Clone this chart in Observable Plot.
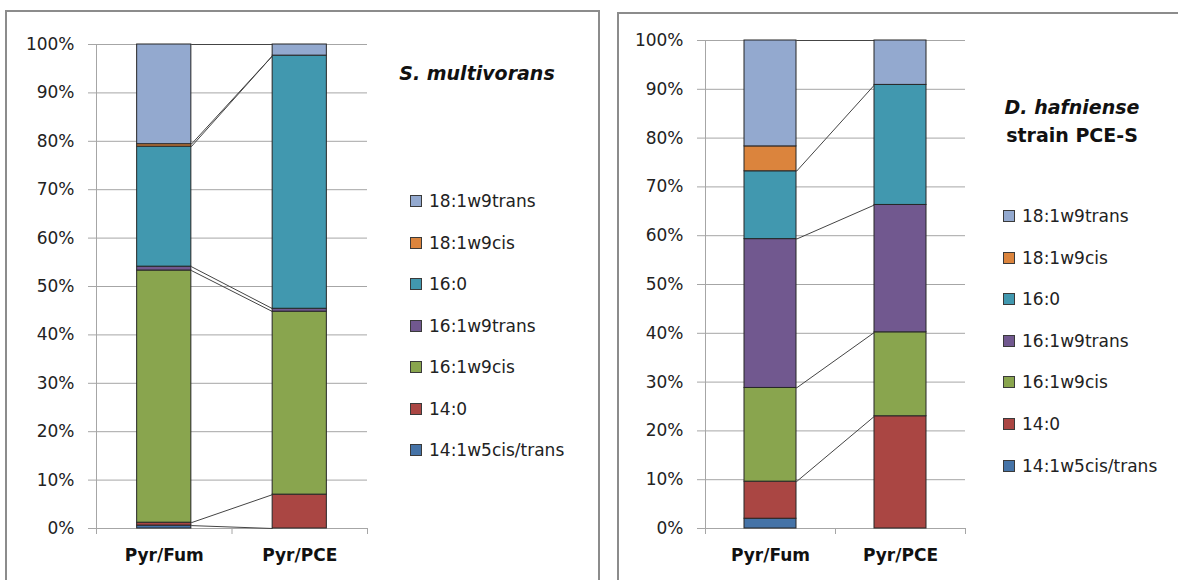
<!DOCTYPE html>
<html><head><meta charset="utf-8">
<script src="https://cdn.jsdelivr.net/npm/d3@7"></script>
<script src="https://cdn.jsdelivr.net/npm/@observablehq/plot@0.6"></script>
<style>
body{margin:0;background:#fff;font-family:"DejaVu Sans",sans-serif;}
#root{position:relative;width:1178px;height:580px;overflow:hidden;background:#fff;}
.panel{position:absolute;border:2px solid #8c8c8c;box-sizing:border-box;}
.chart{position:absolute;top:0;}
.leg{position:absolute;font-size:17px;color:#222;white-space:nowrap;line-height:20px;height:20px;}
.sw{position:absolute;width:10px;height:10px;border:1px solid #3a3a3a;top:4px;}
.title{position:absolute;font-weight:bold;font-size:19px;color:#111;text-align:center;white-space:nowrap;line-height:28px;}
.title i{font-style:italic;}
</style>
</head><body>
<div id="root">
  <div class="panel" style="left:5px;top:10px;width:595px;height:620px;"></div>
  <div class="panel" style="left:617px;top:12px;width:620px;height:620px;"></div>
</div>
<script>
// ---- data ----
const categories = ["Pyr/Fum", "Pyr/PCE"];
// stacking order bottom -> top
const fattyAcids = ["14:1w5cis/trans", "14:0", "16:1w9cis", "16:1w9trans", "16:0", "18:1w9cis", "18:1w9trans"];
const seriesColors = ["#4573A7", "#AA4643", "#89A54E", "#71588F", "#4198AF", "#DB843D", "#93A9CF"];
const multivoransFum = [0.6, 0.6, 52.1, 0.8, 24.8, 0.5, 20.6];
const multivoransPCE = [0, 7.0, 37.8, 0.6, 52.3, 0, 2.3];
const hafnienseFum = [2.0, 7.6, 19.2, 30.5, 13.9, 5.1, 21.7];
const hafniensePCE = [null, 23.0, 17.2, 26.1, 24.6, null, 9.1];
const yTicks = [0, 10, 20, 30, 40, 50, 60, 70, 80, 90, 100];

const root = document.getElementById("root");
const barFrac = 0.4;
const gridColor = "#a6a6a6";

function buildRows(series) {
  const rows = [];
  const tops = [];
  series.forEach((vals, ci) => {
    let cum = 0;
    const t = [];
    vals.forEach((v, si) => {
      if (v == null) { t.push(null); return; }
      rows.push({ci, series: fattyAcids[si], y1: cum, y2: cum + v});
      cum += v;
      t.push(cum);
    });
    tops.push(t);
  });
  const links = [];
  fattyAcids.forEach((s, si) => {
    if (tops[0][si] != null && tops[1][si] != null)
      links.push({series: s, a: tops[0][si], b: tops[1][si]});
  });
  return {rows, links};
}

function makeChart(series, opt) {
  const {rows, links} = buildRows(series);
  const svg = Plot.plot({
    width: opt.width, height: 580,
    marginLeft: opt.ml, marginRight: opt.mr, marginTop: opt.mt, marginBottom: opt.mb,
    x: {domain: [0, categories.length], axis: null},
    y: {domain: [0, 100], axis: null},
    color: {domain: fattyAcids, range: seriesColors},
    style: {fontFamily: "DejaVu Sans", fontSize: "17px", color: "#262626", background: "transparent", overflow: "visible"},
    marks: [
      Plot.ruleY(yTicks, {stroke: gridColor, strokeWidth: 1}),
      Plot.ruleX([0], {y1: 0, y2: 100, stroke: gridColor}),
      Plot.axisY(yTicks, {tickSize: 8, tickPadding: 14, tickFormat: d => d + "%", stroke: gridColor, fill: "#222", fontSize: 17}),
      Plot.axisX(d3.range(categories.length + 1), {tickSize: 6, tickFormat: () => "", stroke: gridColor}),
      Plot.axisX(categories.map((c, i) => i + 0.5), {tickSize: 0, tickPadding: 20, tickFormat: v => categories[Math.floor(v)], fontWeight: "bold", fontSize: 17, fill: "#111"}),
      Plot.link(links, {x1: 0.5 + barFrac / 2, x2: 1.5 - barFrac / 2, y1: "a", y2: "b", stroke: "#444", strokeWidth: 1}),
      Plot.rectY(rows, {x1: d => d.ci + 0.5 - barFrac / 2, x2: d => d.ci + 0.5 + barFrac / 2, y1: "y1", y2: "y2", fill: "series", stroke: "#262626", strokeWidth: 1})
    ]
  });
  svg.classList.add("chart");
  svg.style.left = opt.left + "px";
  root.appendChild(svg);
}

function makeLegend(swX, textX, y0, step) {
  fattyAcids.slice().reverse().forEach((name, i) => {
    const idx = fattyAcids.indexOf(name);
    const d = document.createElement("div");
    d.className = "leg";
    d.style.left = swX + "px";
    d.style.top = (y0 + i * step - 10) + "px";
    d.innerHTML = `<span class="sw" style="left:0;background:${seriesColors[idx]}"></span><span style="position:absolute;left:${textX - swX}px;top:0">${name}</span>`;
    root.appendChild(d);
  });
}

function makeTitle(lines, cx, cy) {
  const d = document.createElement("div");
  d.className = "title";
  d.style.left = (cx - 100) + "px";
  d.style.width = "200px";
  d.style.top = (cy - 14) + "px";
  d.innerHTML = lines.join("<br>");
  root.appendChild(d);
}

makeChart([multivoransFum, multivoransPCE], {left: 0, width: 600, ml: 96, mr: 233, mt: 44, mb: 52});
makeChart([hafnienseFum, hafniensePCE], {left: 617, width: 561, ml: 88, mr: 213, mt: 40, mb: 52});
makeLegend(410, 429, 201, 41.5);
makeLegend(1003, 1022, 216, 41.6);
makeTitle(["<i>S. multivorans</i>"], 477, 73);
makeTitle(["<i>D. hafniense</i>", "strain PCE-S"], 1072, 107);
</script>
</body></html>
